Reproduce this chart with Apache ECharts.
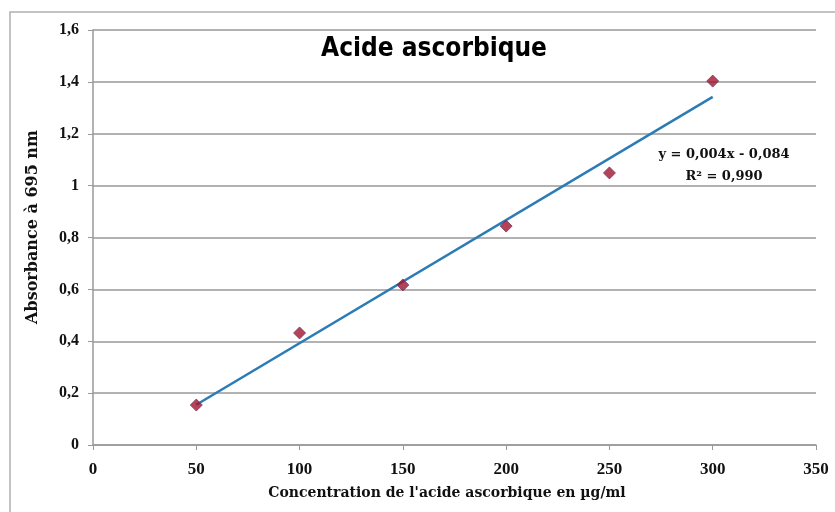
<!DOCTYPE html>
<html><head><meta charset="utf-8">
<script src="https://cdn.jsdelivr.net/npm/echarts@6/dist/echarts.min.js"></script>
<style>html,body{margin:0;padding:0;background:#fff}#c{width:835px;height:512px}</style>
</head><body><div id="c"></div>
<script>
const concentrations = [50, 100, 150, 200, 250, 300];
const absorbances = [0.154, 0.432, 0.617, 0.844, 1.049, 1.403];
const trendX = [50, 300];
const trendY = [0.155, 1.342];
const titleText = 'Acide ascorbique';
const equationLines = ['y = 0,004x - 0,084', 'R² = 0,990'];
const xTitle = "Concentration de l'acide ascorbique en µg/ml";
const yTitle = 'Absorbance à 695 nm';

const chart = echarts.init(document.getElementById('c'));
const serif = 'Liberation Serif';
const wideSerif = 'DejaVu Serif';
const fmt = v => String(Math.round(v * 10) / 10).replace('.', ',');
chart.setOption({
  animation: false,
  backgroundColor: '#fff',
  title: {
    text: titleText, left: 429, top: 31, textAlign: 'center',
    textStyle: { fontFamily: 'DejaVu Sans Condensed', fontWeight: 'bold', fontSize: 26, color: '#000' }
  },
  grid: { left: 93, right: 19, top: 30, bottom: 67 },
  graphic: [
    { type: 'rect', shape: { x: 10, y: 12, width: 840, height: 520 }, style: { fill: 'none', stroke: '#b0b0b0', lineWidth: 1.5 }, z: -1 },
    { type: 'text', x: 724, y: 155, style: { text: equationLines[0], fontFamily: wideSerif, fontWeight: 'bold', fontSize: 13, align: 'center', verticalAlign: 'middle', fill: '#111' } },
    { type: 'text', x: 724, y: 177, style: { text: equationLines[1], fontFamily: wideSerif, fontWeight: 'bold', fontSize: 13, align: 'center', verticalAlign: 'middle', fill: '#111' } },
    { type: 'text', x: 447, y: 493, style: { text: xTitle, fontFamily: wideSerif, fontWeight: 'bold', fontSize: 14, align: 'center', verticalAlign: 'middle', fill: '#111' } },
    { type: 'text', x: 33, y: 227, rotation: Math.PI / 2, style: { text: yTitle, fontFamily: wideSerif, fontWeight: 'bold', fontSize: 16, align: 'center', verticalAlign: 'middle', fill: '#111' } }
  ],
  xAxis: {
    type: 'value', min: 0, max: 350, interval: 50,
    axisLine: { lineStyle: { color: '#999', width: 1.5 } },
    axisTick: { show: true, length: 5, lineStyle: { color: '#999' } },
    axisLabel: { fontFamily: serif, fontWeight: 'bold', fontSize: 17, color: '#111', margin: 16 },
    splitLine: { show: false }
  },
  yAxis: {
    type: 'value', min: 0, max: 1.6, interval: 0.2,
    axisLine: { show: true, lineStyle: { color: '#999', width: 1.5 } },
    axisTick: { show: true, length: 5, lineStyle: { color: '#999' } },
    axisLabel: { fontFamily: serif, fontWeight: 'bold', fontSize: 16, color: '#111', margin: 14, formatter: fmt },
    splitLine: { show: true, lineStyle: { color: '#999', width: 1.5 } }
  },
  series: [
    {
      type: 'line', data: trendX.map((x, i) => [x, trendY[i]]), symbol: 'none',
      lineStyle: { color: '#2b7bb5', width: 2.5 }, z: 2
    },
    {
      type: 'scatter', data: concentrations.map((x, i) => [x, absorbances[i]]),
      symbol: 'diamond', symbolSize: 12,
      itemStyle: { color: '#a0142a', borderColor: '#74386b', borderWidth: 1 }, z: 3
    }
  ]
});
</script></body></html>
